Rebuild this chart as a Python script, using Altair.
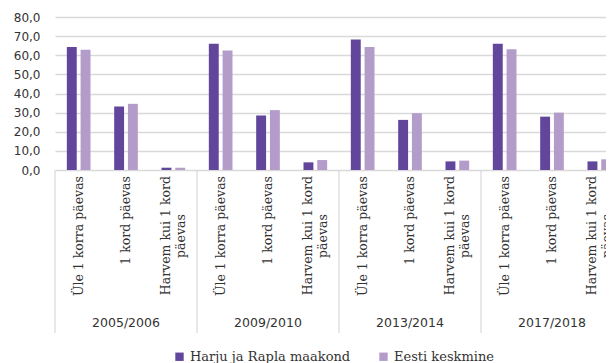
import altair as alt
import pandas as pd

groups = ["2005/2006", "2009/2010", "2013/2014", "2017/2018"]
categories = ["Üle 1 korra päevas", "1 kord päevas", "Harvem kui 1 kord päevas"]
line1 = ["Üle 1 korra päevas", "1 kord päevas", "Harvem kui 1 kord"]
line2 = ["", "", "päevas"]
series = ["Harju ja Rapla maakond", "Eesti keskmine"]
harju = [64.3, 33.2, 1.2, 66.0, 28.5, 4.0, 68.3, 26.2, 4.5, 66.0, 27.9, 4.5]
eesti = [62.9, 34.6, 1.2, 62.5, 31.3, 5.2, 64.3, 29.7, 4.9, 63.1, 30.0, 5.6]
y_ticks = [0, 10, 20, 30, 40, 50, 60, 70, 80]

colors = ["#61469b", "#b39bca"]
text_color = "#333333"
grid_color = "#d9d9d9"
serif = "DejaVu Serif"
sans = "DejaVu Sans"

W, H = 551, 153
RANGE_W = 568
STEP = RANGE_W / 12

keys = [f"{g}|{c}" for g in groups for c in categories]

rows = []
for gi, g in enumerate(groups):
    for ci, c in enumerate(categories):
        k = f"{g}|{c}"
        rows.append({"key": k, "series": series[0], "value": harju[gi * 3 + ci]})
        rows.append({"key": k, "series": series[1], "value": eesti[gi * 3 + ci]})
bars_df = pd.DataFrame(rows)

lab_rows = []
for g in groups:
    for ci, c in enumerate(categories):
        lab_rows.append({"key": f"{g}|{c}", "line1": line1[ci], "line2": line2[ci]})
lab_df = pd.DataFrame(lab_rows)
single_df = lab_df[lab_df["line2"] == ""]
double_df = lab_df[lab_df["line2"] != ""]

years_df = pd.DataFrame({"key": [f"{g}|{categories[1]}" for g in groups], "group": groups})
sep_df = pd.DataFrame({"key": [f"{g}|{categories[2]}" for g in groups]})
left_df = pd.DataFrame({"k": [0]})

xscale = alt.Scale(domain=keys, range=[0, RANGE_W], paddingInner=0.5, paddingOuter=0.25)


def xenc(**kw):
    return alt.X("key:N", scale=xscale, axis=None, **kw)


bars = alt.Chart(bars_df).mark_bar().encode(
    x=xenc(),
    xOffset=alt.XOffset("series:N", sort=series,
                        scale=alt.Scale(domain=series, paddingInner=0.28, paddingOuter=0)),
    y=alt.Y("value:Q", scale=alt.Scale(domain=[0, 80]), title=None,
            axis=alt.Axis(values=y_ticks,
                          labelExpr="replace(format(datum.value, '.1f'), '.', ',')",
                          domain=False, ticks=False, labelPadding=15,
                          labelFont=sans, labelFontSize=12, labelColor=text_color,
                          gridColor=grid_color, gridWidth=1.3)),
    color=alt.Color("series:N",
                    scale=alt.Scale(domain=series, range=colors),
                    legend=alt.Legend(title=None, orient="none", legendX=118, legendY=333,
                                      direction="horizontal", symbolType="square",
                                      symbolSize=70, symbolStrokeWidth=0, labelOffset=4,
                                      columnPadding=26, labelFont=serif, labelFontSize=13,
                                      labelLimit=0, labelColor=text_color)),
)

seps = alt.Chart(sep_df).mark_rule(color=grid_color, strokeWidth=1.2, xOffset=STEP * 0.25).encode(
    x=xenc(bandPosition=1),
    y=alt.value(H),
    y2=alt.value(H + 163),
)

left_sep = alt.Chart(left_df).mark_rule(color=grid_color, strokeWidth=1.2).encode(
    x=alt.value(0),
    y=alt.value(H),
    y2=alt.value(H + 163),
)

lab_single = alt.Chart(single_df).mark_text(
    angle=270, align="right", baseline="middle", font=serif, fontSize=12.5, color=text_color
).encode(x=xenc(), y=alt.value(H + 6), text="line1:N")

lab_first = alt.Chart(double_df).mark_text(
    angle=270, align="right", baseline="middle", font=serif, fontSize=12.5, color=text_color, dy=-7
).encode(x=xenc(), y=alt.value(H + 6), text="line1:N")

lab_second = alt.Chart(double_df).mark_text(
    angle=270, align="center", baseline="middle", font=serif, fontSize=12.5, color=text_color, dy=7.5
).encode(x=xenc(), y=alt.value(H + 66), text="line2:N")

years = alt.Chart(years_df).mark_text(
    font=sans, fontSize=12.5, color=text_color, baseline="middle"
).encode(x=xenc(), y=alt.value(H + 153), text="group:N")

chart = alt.layer(bars, seps, left_sep, lab_single, lab_first, lab_second, years).properties(
    width=W, height=H,
    autosize=alt.AutoSizeParams(type="none"),
    padding={"left": 47, "top": 9, "right": 0, "bottom": 193},
).configure_view(stroke=None)

chart.save("out.html", embed_options={"renderer": "svg", "actions": False})
